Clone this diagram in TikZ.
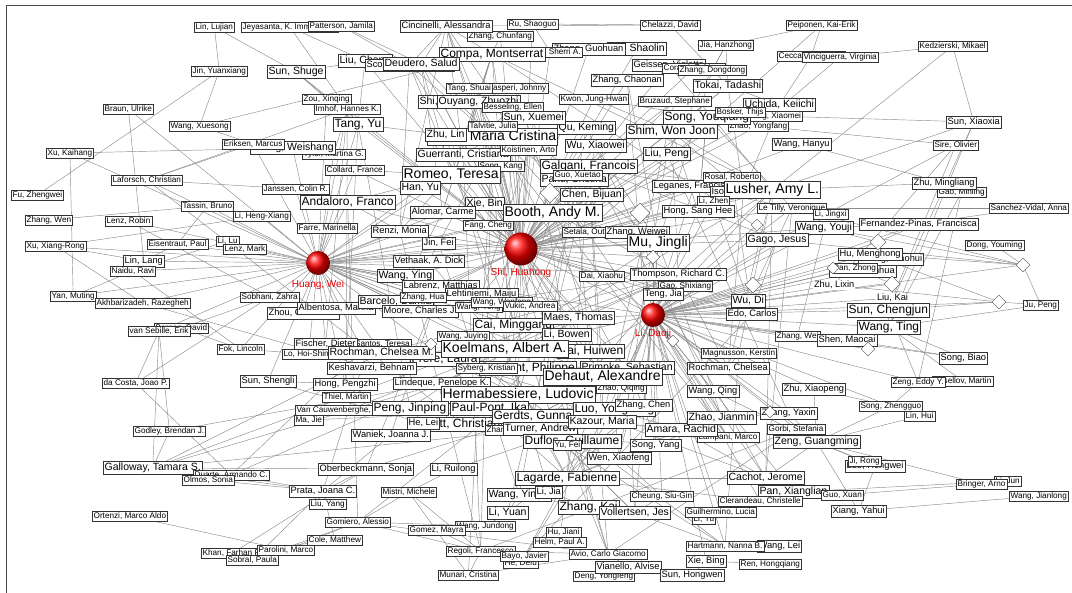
\documentclass[tikz,border=0pt]{standalone}
\usepackage{fontspec}
\setmainfont{Liberation Sans}
\usetikzlibrary{shapes.geometric}
\pgfdeclarelayer{bg}
\pgfsetlayers{bg,main}
\begin{document}
\begin{tikzpicture}[x=1pt,y=-1pt,
  au/.style={draw=black!80, fill=white, line width=0.45pt, inner xsep=1.4pt, inner ysep=1.3pt, anchor=west, text=black},
  s1/.style={au, font=\fontsize{8.2}{9}\selectfont, text height=6.1pt, text depth=1.8pt},
  s2/.style={au, font=\fontsize{9.3}{10}\selectfont, text height=6.9pt, text depth=2pt},
  s3/.style={au, font=\fontsize{10.5}{11}\selectfont, text height=7.9pt, text depth=2.3pt},
  s4/.style={au, font=\fontsize{12}{13}\selectfont, text height=9pt, text depth=2.6pt},
  s5/.style={au, font=\fontsize{14}{15}\selectfont, text height=10.5pt, text depth=3pt, inner ysep=1.8pt},
  plain/.style={anchor=west, fill=white, inner sep=0.8pt, font=\fontsize{9.3}{10}\selectfont, text height=6.9pt, text depth=2pt},
  edge/.style={draw=black!45, line width=0.45pt},
  hub/.style={circle, inner sep=0pt, shading=ball, ball color=red},
  hublabel/.style={text=red!90!black, font=\fontsize{10}{11}\selectfont},
  dia/.style={diamond, draw=black!70, fill=white, inner sep=0pt, line width=0.45pt},
]
\useasboundingbox (0,0) rectangle (1072,593);
\draw[black!70, line width=0.8pt] (6,593) -- (6,5) -- (1072,5);

% ---- upper left
\node[s1] (linlujian) at (194,27) {Lin, Lujian};
\node[s1] (jeyasanta) at (241,27) {Jeyasanta, K. Immaculate};
\node[s1] (patterson) at (308,26) {Patterson, Jamila};
\node[s1] (jinyuan) at (191,71) {Jin, Yuanxiang};
\node[s1] (braun) at (103,109) {Braun, Ulrike};
\node[s1] (wangxues) at (169,126) {Wang, Xuesong};
\node[s1] (xukaihang) at (46,153) {Xu, Kaihang};
\node[s1] (laforsch) at (111,180) {Laforsch, Christian};
\node[s1] (fuzheng) at (11,195) {Fu, Zhengwei};
\node[s1] (tyler) at (302,154) {Tyler, Martina G.};
\node[s3] (weishang) at (250,148) {Zhang, Weishang};
\node[s1] (eriksen) at (222,144) {Eriksen, Marcus};
\node[s1] (janssen) at (262,189) {Janssen, Colin R.};
\node[s1] (tassin) at (181,206) {Tassin, Bruno};
\node[s1] (liheng) at (233,216) {Li, Heng-Xiang};
\node[s1] (zhangwen) at (25,220) {Zhang, Wen};
\node[s1] (lenzrobin) at (105,221) {Lenz, Robin};
\node[s1] (xuxiang) at (25,246) {Xu, Xiang-Rong};
\node[s1] (eisentraut) at (147,244) {Eisentraut, Paul};
\node[s1] (lilu) at (216,241) {Li, Lu};
\node[s1] (lenzmark) at (223,249) {Lenz, Mark};
\node[s2] (linlang) at (123,261) {Lin, Lang};
\node[s1] (naidu) at (110,271) {Naidu, Ravi};
\node[s1] (yanmuting) at (50,296) {Yan, Muting};
\node[s1] (akhbar) at (95,303) {Akhbarizadeh, Razegheh};
\node[s1] (sobhani) at (240,297) {Sobhani, Zahra};
\node[s2] (zhou) at (267,313) {Zhou, Chenchen};
\node[s2] (albentosa) at (297,308) {Albentosa, Marina};
\node[s1] (barnes) at (154,328) {Barnes, David};
\node[s1] (vansebille) at (128,331) {van Sebille, Erik};
\node[s1] (fok) at (217,349) {Fok, Lincoln};
\node[s1] (dacosta) at (102,383) {da Costa, Joao P.};
\node[s2] (sunshengli) at (240,381) {Sun, Shengli};

% ---- lower left
\node[s1] (godley) at (133,431) {Godley, Brendan J.};
\node[s3] (galloway) at (103,468) {Galloway, Tamara S.};
\node[s1] (duarte) at (193,475) {Duarte, Armando C.};
\node[s1] (olmos) at (182,480) {Olmos, Sonia};
\node[s1] (ortenzi) at (92,516) {Ortenzi, Marco Aldo};
\node[s1] (khan) at (201,553) {Khan, Farhan R.};
\node[s1] (parolini) at (257,550) {Parolini, Marco};
\node[s1] (sobral) at (226,560) {Sobral, Paula};

% ---- centre left
\node[s1] (rochasantos) at (327,344) {Rocha-Santos, Teresa};
\node[s2] (fischer) at (294,344) {Fischer, Dieter};
\node[s1] (lohoi) at (282,354) {Lo, Hoi-Shing};
\node[s4] (frere) at (410,359) {Frere, Laura};
\node[s3] (rochmancm) at (328,353) {Rochman, Chelsea M.};
\node[s2] (keshavarzi) at (327,368) {Keshavarzi, Behnam};
\node[s2] (hongpeng) at (313,384) {Hong, Pengzhi};
\node[s2] (lindeque) at (393,383) {Lindeque, Penelope K.};
\node[s1] (thiel) at (322,397) {Thiel, Martin};
\node[s1] (vancauw) at (295,410) {Van Cauwenberghe, Lisbeth};
\node[s1] (majie) at (294,420) {Ma, Jie};
\node[s5] (hermab) at (441,395) {Hermabessiere, Ludovic};
\node[s4] (pengjinping) at (372,408) {Peng, Jinping};
\node[s4] (paulpont) at (450,408) {Paul-Pont, Ika};
\node[s4] (witt) at (424,424) {Witt, Christian};
\node[s2] (helei) at (407,423) {He, Lei};
\node[s2] (waniek) at (351,435) {Waniek, Joanna J.};
\node[s4] (gerdts) at (492,416) {Gerdts, Gunnar};
\node[s1] (zhangxiu) at (485,430) {Zhang, Xiu};
\node[s3] (turner) at (503,429) {Turner, Andrew};
\node[s4] (duflos) at (523,441) {Duflos, Guillaume};
\node[s1] (yufei) at (553,445) {Yu, Fei};
\node[s4] (luoyong) at (573,409) {Luo, Yongming};
\node[s2] (zhangchen) at (615,405) {Zhang, Chen};
\node[s3] (kazour) at (568,422) {Kazour, Maria};
\node[s1] (lampani) at (697,437) {Lampani, Marco};
\node[s3] (amara) at (645,430) {Amara, Rachid};
\node[s3] (zhaojianmin) at (687,418) {Zhao, Jianmin};
\node[s2] (songyang) at (630,445) {Song, Yang};
\node[s2] (wenxiao) at (587,458) {Wen, Xiaofeng};
\node[s2] (oberbeck) at (318,469) {Oberbeckmann, Sonja};
\node[s2] (liruilong) at (430,469) {Li, Ruilong};
\node[s4] (lagarde) at (515,478) {Lagarde, Fabienne};
\node[s2] (prata) at (289,491) {Prata, Joana C.};
\node[s1] (mistri) at (381,492) {Mistri, Michele};
\node[s3] (wangyin) at (487,495) {Wang, Yingzi};
\node[s2] (lijia) at (535,492) {Li, Jia};
\node[s1] (liuyang) at (309,504) {Liu, Yang};
\node[s3] (liyuan) at (487,513) {Li, Yuan};
\node[s1] (gomiero) at (325,522) {Gomiero, Alessio};
\node[s1] (wangjundong) at (455,526) {Wang, Jundong};
\node[s1] (gomez) at (408,530) {Gomez, Mayra};
\node[s1] (cole) at (307,540) {Cole, Matthew};
\node[s1] (regoli) at (446,551) {Regoli, Francesco};
\node[s1] (hedefu) at (503,563) {He, Defu};
\node[s1] (bayo) at (500,556) {Bayo, Javier};
\node[s1] (munari) at (438,575) {Munari, Cristina};

% ---- lower centre and right
\node[s4] (zhangkai) at (558,507) {Zhang, Kai};
\node[s3] (vollertsen) at (599,513) {Vollertsen, Jes};
\node[s1] (cheung) at (630,496) {Cheung, Siu-Gin};
\node[s1] (liyu) at (692,519) {Li, Yu};
\node[s1] (guilhermino) at (685,512) {Guilhermino, Lucia};
\node[s1] (hujiani) at (546,532) {Hu, Jiani};
\node[s1] (helm) at (533,542) {Helm, Paul A.};
\node[s1] (avio) at (569,554) {Avio, Carlo Giacomo};
\node[s1] (deng) at (573,576) {Deng, Yongfeng};
\node[s2] (vianello) at (595,567) {Vianello, Alvise};
\node[s2] (sunhongwen) at (660,575) {Sun, Hongwen};
\node[s2] (xiebing) at (686,561) {Xie, Bing};
\node[s2] (wanglei) at (757,546) {Wang, Lei};
\node[s1] (hartmann) at (686,546) {Hartmann, Nanna B.};
\node[s1] (renhong) at (739,564) {Ren, Hongqiang};
\node[s3] (cachot) at (727,478) {Cachot, Jerome};
\node[s3] (panxiang) at (758,492) {Pan, Xianglian};
\node[s1] (clerandeau) at (718,501) {Clerandeau, Christelle};
\node[s1] (guoxuan) at (821,495) {Guo, Xuan};
\node[s2] (xiangyahui) at (831,511) {Xiang, Yahui};
\node[s2] (luohongwei) at (845,466) {Luo, Hongwei};
\node[s1] (jirong) at (848,461) {Ji, Rong};
\node[s1] (lijun) at (994,481) {Li, Jun};
\node[s1] (bringer) at (956,484) {Bringer, Arno};
\node[s1] (wangjianlong) at (1009,496) {Wang, Jianlong};
\node[s3] (zengguang) at (773,442) {Zeng, Guangming};
\node[s1] (gorbi) at (767,429) {Gorbi, Stefania};
\node[s2] (zhangyaxin) at (760,413) {Zhang, Yaxin};
\node[s1] (songzheng) at (859,406) {Song, Zhengguo};
\node[s1] (linhui) at (904,416) {Lin, Hui};
\node[s2] (zhuxiaopeng) at (782,389) {Zhu, Xiaopeng};
\node[s1] (kosellov) at (932,381) {Kosellov, Martin};
\node[s1] (zengeddy) at (891,382) {Zeng, Eddy Y.};
\node[s2] (songbiao) at (939,358) {Song, Biao};
\node[s1] (zhangwei) at (775,336) {Zhang, Wei};
\node[s2] (shenmaocai) at (817,340) {Shen, Maocai};
\node[s4] (wangting) at (857,327) {Wang, Ting};
\node[plain] (liukai) at (876,298) {Liu, Kai};
\node[s4] (sunchengjun) at (847,310) {Sun, Chengjun};
\node[plain] (zhulixin) at (813,285) {Zhu, Lixin};
\node[s1] (jupeng) at (1023,305) {Ju, Peng};
\node[s1] (dongyouming) at (965,245) {Dong, Youming};
\node[s1] (sanchez) at (989,208) {Sanchez-Vidal, Anna};
\node[s1] (letilly) at (757,208) {Le Tilly, Veronique};
\node[s1] (lijingxi) at (813,214) {Li, Jingxi};
\node[s3] (wangyouji) at (795,228) {Wang, Youji};
\node[s2] (fernandez) at (859,224) {Fernandez-Pinas, Francisca};
\node[s2] (xiaohui) at (858,259) {Zhang, Xiaohui};
\node[s2] (humenghong) at (838,254) {Hu, Menghong};
\node[s2] (chunhua) at (829,271) {Zhao, Chunhua};
\node[s1] (panzhong) at (832,268) {Pan, Zhong};
\node[s3] (gagojesus) at (746,240) {Gago, Jesus};

% ---- upper right
\node[s1] (gaominling) at (937,192) {Gao, Minling};
\node[s2] (zhumingliang) at (912,183) {Zhu, Mingliang};
\node[s2] (sunxiaoxia) at (946,122) {Sun, Xiaoxia};
\node[s1] (sireoliv) at (933,145) {Sire, Olivier};
\node[s1] (kedzierski) at (918,46) {Kedzierski, Mikael};
\node[s1] (cecc) at (777,56) {Ceccarini, Alessio};
\node[s1] (vinciguerra) at (802,57) {Vinciguerra, Virginia};
\node[s1] (peiponen) at (786,25) {Peiponen, Kai-Erik};
\node[s2] (wanghanyu) at (772,144) {Wang, Hanyu};
\node[s1] (zhaoyongfang) at (728,126) {Zhao, Yongfang};
\node[s1] (xiaomei) at (742,116) {Zhang, Xiaomei};
\node[s3] (uchida) at (743,105) {Uchida, Keiichi};
\node[s4] (songyou) at (663,117) {Song, Youqiang};
\node[s1] (bosker) at (715,112) {Bosker, Thijs};
\node[s3] (tokai) at (693,86) {Tokai, Tadashi};
\node[s1] (jiahan) at (698,45) {Jia, Hanzhong};
\node[s1] (chelazzi) at (640,25) {Chelazzi, David};
\node[s2] (geissen) at (632,65) {Geissen, Violette};
\node[s1] (corami) at (662,68) {Corami, Fabiana};
\node[s1] (zhangdong) at (678,70) {Zhang, Dongdong};
\node[s2] (zhangchaonan) at (591,80) {Zhang, Chaonan};
\node[s1] (bruzaud) at (638,101) {Bruzaud, Stephane};
\node[s1] (kwon) at (559,99) {Kwon, Jung-Hwan};
\node[s4] (shim) at (626,131) {Shim, Won Joon};
\node[s3] (qukeming) at (557,128) {Qu, Keming};
\node[s3] (wuxiaowei) at (565,146) {Wu, Xiaowei};
\node[s3] (liupeng) at (643,154) {Liu, Peng};
\node[s4] (galgani) at (540,166) {Galgani, Francois};
\node[s3] (panti) at (540,180) {Panti, Cristina};
\node[s1] (guoxuetao) at (553,175) {Guo, Xuetao};
\node[s3] (chenbijuan) at (560,195) {Chen, Bijuan};
\node[s2] (leganes) at (652,186) {Leganes, Francisco};
\node[s1] (rosal) at (703,177) {Rosal, Roberto};
\node[s2] (isobe) at (710,192) {Isobe, Atsuhiko};
\node[s5] (lusher) at (724,190) {Lusher, Amy L.};

% ---- upper centre
\node[s3] (xieshaolin) at (607,49) {Xie, Shaolin};
\node[s2] (zhangguohuan) at (552,49) {Zhang, Guohuan};
\node[s1] (mason) at (518,52) {Mason, Sherri A.};
\node[s1] (rushaoguo) at (507,24) {Ru, Shaoguo};
\node[s1] (zhangchunfang) at (467,36) {Zhang, Chunfang};
\node[s2] (cincinelli) at (400,26) {Cincinelli, Alessandra};
\node[s4] (compa) at (439,54) {Compa, Montserrat};
\node[s3] (liuchang) at (338,61) {Liu, Chang};
\node[s2] (scopetani) at (365,65) {Scopetani, Costanza};
\node[s3] (deudero) at (383,64) {Deudero, Salud};
\node[s3] (sunshuge) at (267,72) {Sun, Shuge};
\node[s1] (zou) at (302,99) {Zou, Xinqing};
\node[s1] (imhof) at (314,109) {Imhof, Hannes K.};
\node[s4] (tangyu) at (333,124) {Tang, Yu};
\node[s1] (gasperi) at (485,88) {Gasperi, Johnny};
\node[s1] (tangshuai) at (446,88) {Tang, Shuai};
\node[s3] (shiyang) at (418,102) {Shi, Yang};
\node[s3] (ouyang) at (437,102) {Ouyang, Zhuozhi};
\node[s1] (besseling) at (482,107) {Besseling, Ellen};
\node[s3] (sunxuemei) at (502,118) {Sun, Xuemei};
\node[s5] (fossi) at (427,137) {Fossi, Maria Cristina};
\node[s3] (zhulin) at (425,135) {Zhu, Lin};
\node[s1] (talvitie) at (468,126) {Talvitie, Julia};
\node[s3] (guerranti) at (416,155) {Guerranti, Cristiana};
\node[s1] (koistinen) at (500,150) {Koistinen, Arto};
\node[s1] (songkang) at (478,166) {Song, Kang};
\node[s1] (collard) at (325,170) {Collard, France};
\node[s5] (romeo) at (402,175) {Romeo, Teresa};
\node[s3] (hanyu) at (400,188) {Han, Yu};
\node[s4] (andaloro) at (300,202) {Andaloro, Franco};
\node[s3] (xiebin) at (465,204) {Xie, Bin};
\node[s2] (alomar) at (410,212) {Alomar, Carme};
\node[s1] (fangcheng) at (463,225) {Fang, Cheng};
\node[s5] (booth) at (503,213) {Booth, Andy M.};
\node[s1] (farre) at (297,228) {Farre, Marinella};
\node[s2] (renzi) at (371,231) {Renzi, Monia};
\node[s2] (jinfei) at (422,243) {Jin, Fei};
\node[s2] (vethaak) at (393,261) {Vethaak, A. Dick};
\node[s3] (wangying) at (377,276) {Wang, Ying};
\node[s2] (labrenz) at (402,286) {Labrenz, Matthias};
\node[s2] (lehtiniemi) at (445,294) {Lehtiniemi, Maiju};
\node[s3] (barcelo) at (358,302) {Barcelo, Damia};
\node[s2] (moore) at (382,311) {Moore, Charles J.};
\node[s1] (zhanghua) at (400,297) {Zhang, Hua};
\node[s1] (wangyong) at (455,307) {Wang, Yong};
\node[s1] (wangwenfeng) at (471,302) {Wang, Wenfeng};
\node[s1] (vukic) at (503,306) {Vukic, Andrea};
\node[s4] (caiming) at (473,325) {Cai, Minggang};
\node[s3] (maes) at (542,318) {Maes, Thomas};
\node[s3] (libowen) at (542,335) {Li, Bowen};
\node[s1] (wangjuying) at (437,336) {Wang, Juying};
\node[s4] (caihuiwen) at (557,351) {Cai, Huiwen};
\node[s5] (koelmans) at (441,349) {Koelmans, Albert A.};
\node[s4] (soudant) at (479,368) {Soudant, Philippe};
\node[s1] (syberg) at (456,368) {Syberg, Kristian};
\node[s3] (primpke) at (580,368) {Primpke, Sebastian};
\node[s1] (qiqing) at (596,388) {Zhao, Qiqing};
\node[s5] (dehaut) at (543,377) {Dehaut, Alexandre};

% ---- centre right
\node[s1] (setala) at (562,232) {Setala, Outi};
\node[s2] (zhangweiwei) at (605,232) {Zhang, Weiwei};
\node[s5] (mujingli) at (627,243) {Mu, Jingli};
\node[s1] (daixiaohu) at (579,276) {Dai, Xiaohu};
\node[s2] (thompson) at (630,274) {Thompson, Richard C.};
\node[s1] (gaoshix) at (658,286) {Gao, Shixiang};
\node[s2] (tengjia) at (643,294) {Teng, Jia};
\node[s3] (wudi) at (731,301) {Wu, Di};
\node[s2] (edo) at (726,314) {Edo, Carlos};
\node[s1] (magnusson) at (701,353) {Magnusson, Kerstin};
\node[s2] (rochmanc) at (687,368) {Rochman, Chelsea};
\node[s2] (wangqing) at (687,391) {Wang, Qing};
\node[s1] (lizhen) at (697,201) {Li, Zhen};
\node[s2] (hongsang) at (662,211) {Hong, Sang Hee};

% ---- diamonds
\node[dia, minimum width=20pt, minimum height=20pt] (d1) at (550,193) {};
\node[dia, minimum width=20pt, minimum height=20pt] (d2) at (640,213) {};
\node[dia, minimum width=12pt, minimum height=12pt] (d3) at (757,225) {};
\node[dia, minimum width=14pt, minimum height=14pt] (d4) at (653,257) {};
\node[dia, minimum width=16pt, minimum height=16pt] (d5) at (753,285) {};
\node[dia, minimum width=12pt, minimum height=12pt] (d6) at (673,341) {};
\node[dia, minimum width=12pt, minimum height=12pt] (d7) at (431,344) {};
\node[dia, minimum width=16pt, minimum height=16pt] (d8) at (878,242) {};
\node[dia, minimum width=14pt, minimum height=14pt] (d9) at (1023,265) {};
\node[dia, minimum width=12pt, minimum height=12pt] (d10) at (833,268) {};
\node[dia, minimum width=16pt, minimum height=16pt] (d11) at (892,284) {};
\node[dia, minimum width=14pt, minimum height=14pt] (d12) at (999,302) {};
\node[dia, minimum width=14pt, minimum height=14pt] (d13) at (868,349) {};
\node[dia, minimum width=12pt, minimum height=12pt] (d14) at (770,412) {};

% ---- the three hubs
\node[hub, minimum size=24pt] (huang) at (318,263) {};
\node[hublabel] (huanglab) at (318,285) {Huang, Wei};
\node[hub, minimum size=33pt] (shi) at (521,249) {};
\node[hublabel] (shilab) at (521,273) {Shi, Huahong};
\node[hub, minimum size=24pt] (lidaoji) at (653,315) {};
\node[hublabel] (lidaojilab) at (653,334) {Li, Daoji};

% ---- co-authorship links, drawn behind the boxes
\begin{pgfonlayer}{bg}
\foreach \t in {tassin, liheng, lilu, lenzmark, eisentraut, linlang, naidu, sobhani, zhou, albentosa, farre, andaloro, renzi, jinfei, vethaak, wangying, alomar, laforsch, janssen, xuxiang, akhbar, fok, lenzrobin, weishang, collard, hanyu, barcelo, labrenz, lehtiniemi, koelmans, caiming, booth, shi, mujingli, thompson, lohoi, fischer, rochmancm, sunshengli, keshavarzi, xiebin, fangcheng, romeo, tangyu, imhof, tyler, zhanghua, moore, wangyong, wangjuying, dehaut, maes, frere, zhangweiwei, setala, lidaoji, hongpeng, zou, eriksen, braun, xukaihang, yanmuting, vansebille}
  \draw[edge] (huang.center) -- (\t.center);
\foreach \t in {booth, romeo, galgani, panti, chenbijuan, setala, zhangweiwei, mujingli, d1, d2, guoxuetao, koistinen, songkang, guerranti, fossi, sunxuemei, wuxiaowei, qukeming, shim, liupeng, songyou, leganes, lusher, hongsang, lizhen, thompson, daixiaohu, maes, caiming, koelmans, libowen, lehtiniemi, wangwenfeng, xiebin, fangcheng, alomar, jinfei, renzi, vethaak, wangying, lidaoji, tengjia, gaoshix, zhangchaonan, tokai, compa, deudero, ouyang, tangshuai, zhulin, hanyu, andaloro, cincinelli, mason, zhangguohuan, xieshaolin, kwon, bruzaud, d4, dehaut, hermab, vukic, talvitie, besseling, gasperi, zhangchunfang, rushaoguo, geissen, labrenz, barcelo, zhanghua, caihuiwen, primpke, wudi, edo, gagojesus, letilly, wangyouji, isobe, rosal, uchida, zhaoyongfang, bosker, wanghanyu, collard, imhof, tangyu, sunshuge, liuchang, scopetani, shiyang}
  \draw[edge] (shi.center) -- (\t.center);
\foreach \t in {thompson, tengjia, gaoshix, daixiaohu, wudi, edo, magnusson, rochmanc, wangqing, zhangchen, d4, d5, d6, mujingli, zhangweiwei, hongsang, gagojesus, wangyouji, humenghong, sunchengjun, wangting, shenmaocai, zhangwei, zhulixin, caihuiwen, primpke, dehaut, maes, libowen, luoyong, zhaojianmin, amara, zhangyaxin, zengguang, cachot, leganes, lusher, letilly, lijingxi, fernandez, d8, d9, d11, d12, d13, d10, songbiao, zhuxiaopeng, kazour, songyang, wenxiao, vollertsen, lizhen, xiaohui, chunhua, panzhong, liukai, gorbi, lampani, qiqing, d3, zengeddy, songzheng, panxiang, clerandeau, cheung, guilhermino, hartmann, xiebing}
  \draw[edge] (lidaoji.center) -- (\t.center);
\foreach \a/\b in {linlujian/jinyuan, linlujian/sunshuge, jinyuan/wangxues, jinyuan/fuzheng, jeyasanta/tangyu, jeyasanta/liuchang, patterson/deudero, patterson/scopetani, xukaihang/yanmuting, xukaihang/weishang, braun/linlang, wangxues/eriksen, wangxues/compa, eriksen/laforsch, laforsch/janssen, zhangwen/tassin, xuxiang/linlang, xuxiang/liheng, xuxiang/akhbar, lenzrobin/sobhani, naidu/yanmuting, naidu/fok, naidu/lilu, eisentraut/linlang, eisentraut/tassin, vansebille/dacosta, vansebille/godley, vansebille/galloway, barnes/fok, barnes/sobhani, dacosta/sobhani, godley/galloway, godley/lindeque, galloway/oberbeck, galloway/olmos, galloway/prata, galloway/rochmancm, duarte/dacosta, duarte/prata, duarte/lindeque, olmos/prata, ortenzi/parolini, parolini/gomiero, khan/cole, sobral/prata, parolini/cole, sobral/gomiero, khan/oberbeck, prata/liuyang, prata/waniek, prata/oberbeck, mistri/gomiero, mistri/regoli, mistri/liruilong, mistri/munari, gomiero/wangjundong, gomiero/regoli, cole/prata, regoli/munari, regoli/bayo, munari/avio, hedefu/lagarde, helm/hujiani, helm/lagarde, avio/vianello, avio/regoli, vianello/deng, sunhongwen/xiebing, hartmann/wanglei, renhong/xiebing, cheung/vollertsen, guilhermino/liyu, cachot/clerandeau, cachot/panxiang, guoxuan/bringer, xiangyahui/wangjianlong, panxiang/lijun, bringer/zengguang, luohongwei/xiangyahui, jirong/zengguang, songzheng/zengguang, linhui/zengguang, songzheng/linhui, songzheng/zhuxiaopeng, zengeddy/songzheng, zengeddy/sunchengjun, kosellov/wangting, songbiao/shenmaocai, songbiao/wangting, wangting/sunchengjun, liukai/sunchengjun}
  \draw[edge] (\a.center) -- (\b.center);
\foreach \a/\b in {kedzierski/vinciguerra, kedzierski/sunxiaoxia, kedzierski/lusher, sunxiaoxia/xiaomei, sunxiaoxia/lusher, sunxiaoxia/wangting, sunxiaoxia/sunchengjun, sireoliv/zhaoyongfang, sireoliv/gagojesus, sireoliv/liukai, sireoliv/zhulixin, wanghanyu/zhumingliang, zhumingliang/lusher, zhumingliang/gaominling, gaominling/zengeddy, gaominling/wangting, sanchez/fernandez, sanchez/letilly, dongyouming/d9, d9/jupeng, d12/jupeng, d9/wangyouji, d9/humenghong, d9/gagojesus, d12/sunchengjun, d12/zhulixin, d12/humenghong, d9/letilly, jupeng/wangting, d8/fernandez, d8/wangyouji, d10/panzhong, d11/chunhua, d11/liukai, d13/shenmaocai, d14/zhangyaxin, peiponen/cecc, peiponen/jiahan, vinciguerra/cecc, chelazzi/rushaoguo, chelazzi/tokai, jiahan/tokai, jiahan/zhangdong, cecc/uchida, vinciguerra/zhaoyongfang, cincinelli/compa, cincinelli/deudero, cincinelli/scopetani, cincinelli/fossi, cincinelli/guerranti, cincinelli/renzi, zhangchunfang/compa, rushaoguo/mason, compa/guerranti, compa/romeo, deudero/alomar, scopetani/fossi, liuchang/sunshuge, liuchang/tangyu, sunshuge/zou, sunshuge/tangyu, zou/imhof, imhof/laforsch, imhof/tyler, tangyu/zhulin, tangshuai/shiyang, gasperi/tangshuai, besseling/koelmans, besseling/talvitie, talvitie/koistinen, koistinen/setala, koistinen/lehtiniemi, fossi/guerranti, collard/romeo, romeo/renzi, romeo/andaloro, romeo/guerranti, andaloro/renzi, xiebin/booth, fangcheng/booth, booth/mujingli, vethaak/koelmans, vethaak/besseling, wangying/caiming, labrenz/lehtiniemi, barcelo/alomar}
  \draw[edge] (\a.center) -- (\b.center);
\foreach \a/\b in {koelmans/hermab, koelmans/rochmancm, rochmancm/thompson, rochmancm/rochasantos, dehaut/hermab, dehaut/lagarde, dehaut/kazour, dehaut/duflos, hermab/paulpont, paulpont/lagarde, paulpont/soudant, soudant/frere, soudant/primpke, primpke/gerdts, gerdts/lagarde, kazour/amara, amara/lagarde, duflos/hermab, lindeque/galloway, lindeque/thompson, frere/cachot, frere/amara, lagarde/cachot, hermab/gomiero, fossi/avio, avio/gomiero, fossi/regoli, panti/fossi, panti/avio, alomar/compa, andaloro/gomiero, rochasantos/duarte, rochasantos/prata, syberg/vollertsen, syberg/hartmann, vollertsen/hartmann, lusher/thompson, lusher/hongsang, galgani/hermab, galgani/kazour, galgani/cachot, galgani/gagojesus, compa/gagojesus, tokai/isobe, shim/songyou, shim/hongsang, songyou/hongsang, leganes/rosal, rosal/edo, edo/gagojesus, letilly/cachot, wangqing/zhaojianmin, zhangchen/luoyong, luoyong/wenxiao, zhaojianmin/songyang, amara/cachot, zhangyaxin/zengguang, gorbi/regoli, zengguang/luohongwei, zengguang/xiangyahui, guoxuan/panxiang, zhangchen/liyuan, zhangchen/lijia, zhangkai/lijia, zhangkai/wangyin, liyuan/wangyin, wangjundong/liyuan, helei/waniek, helei/pengjinping, pengjinping/mujingli, ouyang/caiming, zhulin/lijia, sunxuemei/zhangkai, wuxiaowei/liyuan, qukeming/wangyin, liupeng/wenxiao, zhangchaonan/songyang, kwon/shim, tangyu/pengjinping, tangyu/hongpeng, gerdts/primpke, turner/hartmann, turner/galloway, thompson/galloway, gomez/regoli, munari/fossi, bayo/edo, hedefu/luoyong, wangyin/songyang, liruilong/zhangchen, oberbeck/labrenz, oberbeck/gerdts, waniek/labrenz, thiel/imhof, vancauw/koelmans, majie/zhangchen, witt/laforsch, zhangxiu/songyang, yufei/wenxiao, sunshengli/helei, keshavarzi/akhbar, lohoi/fok, fischer/imhof, hongpeng/sunshengli, moore/thompson, magnusson/lusher, rochmanc/thompson, clerandeau/lagarde, jinfei/wangyin}
  \draw[edge] (\a.center) -- (\b.center);
\foreach \a/\b in {compa/hermab, romeo/dehaut, booth/koelmans, booth/thompson, galgani/lagarde, galgani/dehaut, galgani/paulpont, koelmans/lusher, koelmans/thompson, koelmans/gerdts, koelmans/lindeque, koelmans/syberg, hermab/lagarde, thompson/shim, shim/lusher, lusher/isobe, isobe/shim, mujingli/zhangchen, mujingli/luoyong, mujingli/wangqing, zhangweiwei/zhaojianmin, tokai/shim, uchida/tokai, uchida/isobe, bruzaud/galgani, bruzaud/kazour, geissen/lusher, corami/panti, zhangdong/mujingli, jiahan/liupeng, zhangchaonan/mujingli, wuxiaowei/mujingli, qukeming/zhangweiwei, liupeng/zhangyaxin, songyou/letilly, lizhen/wudi, letilly/galgani, fernandez/wangyouji, wangyouji/zhangwei, shenmaocai/wangting, zhuxiaopeng/zengguang, zengguang/cachot, zhangyaxin/zhaojianmin, gorbi/avio, lampani/fossi, amara/paulpont, kazour/lagarde, duflos/lagarde, turner/thompson, turner/koelmans, syberg/primpke, gerdts/lindeque, lindeque/paulpont, frere/paulpont, frere/hermab, frere/dehaut, vollertsen/primpke, vollertsen/gerdts, hartmann/magnusson, magnusson/rochmanc, rochmanc/lusher, wangqing/zengguang, songyang/zhangchen, wenxiao/cheung, deudero/romeo, deudero/fossi, compa/alomar, scopetani/renzi, scopetani/avio, cincinelli/avio, cincinelli/lampani, guerranti/regoli, renzi/regoli, gasperi/dehaut, tangshuai/mujingli, ouyang/zhangchen, kwon/songyou, besseling/soudant, talvitie/setala, koistinen/syberg, hongsang/songyou, lusher/galgani, lusher/cachot, letilly/wudi, isobe/rochmanc, compa/lusher, chelazzi/cincinelli, peiponen/setala}
  \draw[edge] (\a.center) -- (\b.center);
\end{pgfonlayer}
\end{tikzpicture}
\end{document}
